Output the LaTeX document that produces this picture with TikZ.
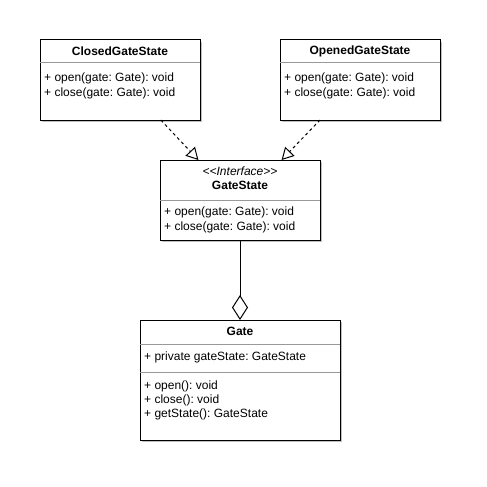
\documentclass[tikz,border=0pt]{standalone}
\usepackage{fontspec}
\setmainfont{Liberation Sans}
\usetikzlibrary{arrows.meta,calc,shadows}
\frenchspacing
\begin{document}
\begin{tikzpicture}[x=1pt,y=-1pt,
  classbox/.style={draw=black, line width=1pt, fill=white, rectangle, inner sep=0pt, outer sep=0pt, anchor=north west,
    drop shadow={shadow xshift=2pt, shadow yshift=-2pt, opacity=0.25, fill=black}},
  ctitle/.style={font=\fontsize{12}{14}\selectfont\bfseries, inner sep=0pt},
  cstereo/.style={font=\fontsize{12}{14}\selectfont\itshape, inner sep=0pt},
  member/.style={font=\fontsize{12}{14}\selectfont, anchor=west, inner sep=0pt},
  divider/.style={draw=black!40, line width=1pt},
  realize/.style={draw=black, line width=1pt, dash pattern=on 3pt off 3pt, -{Triangle[length=12pt,width=13pt,fill=white,line width=1pt]}},
  aggr/.style={draw=black, line width=1pt, -{Diamond[length=25pt,width=16pt,fill=white,line width=1pt]}}
]
\fill[white] (0,0) rectangle (487,487);
\useasboundingbox (0,0) rectangle (487,487);

% ClosedGateState
\node[classbox, minimum width=160pt, minimum height=80pt] (closed) at (40,40) {};
\draw[divider] ([yshift=-23pt]closed.north west) -- ([yshift=-23pt]closed.north east);
\node[ctitle] (closedT) at (120,51) {ClosedGateState};
\node[member] (closedM1) at (44,78) {+ open(gate: Gate): void};
\node[member] (closedM2) at (44,93) {+ close(gate: Gate): void};

% OpenedGateState
\node[classbox, minimum width=160pt, minimum height=80pt] (opened) at (280,40) {};
\draw[divider] ([yshift=-23pt]opened.north west) -- ([yshift=-23pt]opened.north east);
\node[ctitle] (openedT) at (360,51) {OpenedGateState};
\node[member] (openedM1) at (284,78) {+ open(gate: Gate): void};
\node[member] (openedM2) at (284,93) {+ close(gate: Gate): void};

% GateState
\node[classbox, minimum width=160pt, minimum height=80pt] (gatestate) at (160,160) {};
\draw[divider] ([yshift=-40pt]gatestate.north west) -- ([yshift=-40pt]gatestate.north east);
\node[cstereo] (gsS) at (240,171) {<\kern0pt<Interface>\kern0pt>};
\node[ctitle] (gsT) at (240,185) {GateState};
\node[member] (gsM1) at (164,212) {+ open(gate: Gate): void};
\node[member] (gsM2) at (164,227) {+ close(gate: Gate): void};

% Gate
\node[classbox, minimum width=200pt, minimum height=120pt] (gate) at (140,320) {};
\draw[divider] ([yshift=-24pt]gate.north west) -- ([yshift=-24pt]gate.north east);
\draw[divider] ([yshift=-52pt]gate.north west) -- ([yshift=-52pt]gate.north east);
\node[ctitle] (gateT) at (240,331) {Gate};
\node[member] (gateA1) at (144,357) {+ private gateState: GateState};
\node[member] (gateM1) at (144,386) {+ open(): void};
\node[member] (gateM2) at (144,400) {+ close(): void};
\node[member] (gateM3) at (144,414) {+ getState(): GateState};

% connectors
\coordinate (c1) at ($(closed.south west)!0.755!(closed.south east)$);
\coordinate (g1) at ($(gatestate.north west)!0.24!(gatestate.north east)$);
\coordinate (c2) at ($(opened.south west)!0.25!(opened.south east)$);
\coordinate (g2) at ($(gatestate.north west)!0.76!(gatestate.north east)$);
\draw[realize] (c1) -- (g1);
\draw[realize] (c2) -- (g2);
\draw[aggr] (gatestate.south) -- (gate.north);
\end{tikzpicture}
\end{document}
